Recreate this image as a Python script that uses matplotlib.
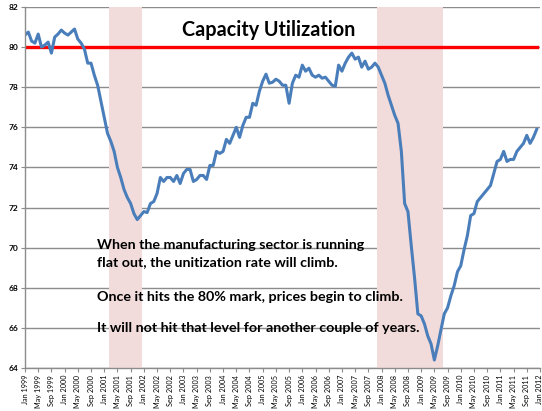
import matplotlib
matplotlib.use("Agg")
import matplotlib.pyplot as plt

# Monthly manufacturing capacity utilization, Jan 1999 - Dec 2011 (percent)
START_YEAR = 1999
utilization = [
    # 1999
    80.6, 80.75, 80.3, 80.2, 80.65, 80.0, 80.1, 80.25, 79.7, 80.5, 80.65, 80.85,
    # 2000
    80.7, 80.6, 80.75, 80.9, 80.4, 80.2, 79.9, 79.2, 79.2, 78.6, 78.1, 77.3,
    # 2001
    76.5, 75.7, 75.3, 74.8, 74.0, 73.5, 72.9, 72.5, 72.2, 71.7, 71.4, 71.6,
    # 2002
    71.8, 71.75, 72.2, 72.3, 72.7, 73.5, 73.3, 73.5, 73.5, 73.3, 73.6, 73.2,
    # 2003
    73.7, 73.9, 73.9, 73.3, 73.4, 73.6, 73.6, 73.4, 74.1, 74.1, 74.8, 74.7,
    # 2004
    74.8, 75.4, 75.2, 75.6, 76.0, 75.5, 76.1, 76.5, 76.5, 77.2, 77.1, 77.8,
    # 2005
    78.3, 78.65, 78.2, 78.25, 78.4, 78.3, 78.1, 78.1, 77.2, 78.2, 78.6, 78.5,
    # 2006
    79.1, 78.8, 78.95, 78.6, 78.5, 78.6, 78.45, 78.5, 78.3, 78.1, 78.05, 79.1,
    # 2007
    78.8, 79.2, 79.5, 79.7, 79.4, 79.5, 79.0, 79.3, 78.9, 79.0, 79.2, 79.0,
    # 2008
    78.6, 78.2, 77.6, 77.1, 76.6, 76.2, 74.8, 72.2, 71.8, 70.1, 68.5, 66.7,
    # 2009
    66.6, 66.2, 65.6, 65.2, 64.4, 65.1, 65.9, 66.7, 67.0, 67.6, 68.1, 68.8,
    # 2010
    69.1, 69.9, 70.6, 71.6, 71.7, 72.3, 72.5, 72.7, 72.9, 73.1, 73.7, 74.3,
    # 2011
    74.4, 74.8, 74.3, 74.4, 74.4, 74.8, 75.0, 75.2, 75.6, 75.2, 75.5, 75.9,
]
threshold = 80
# recession periods as (year, month) start and end
recessions = [((2001, 3), (2001, 12)), ((2007, 12), (2009, 7))]
notes = [
    "When the manufacturing sector is running",
    "flat out, the unitization rate will climb.",
    "Once it hits the 80% mark, prices begin to climb.",
    "It will not hit that level for another couple of years.",
]
month_names = ["Jan", "May", "Sep"]


def month_index(year, month):
    return (year - START_YEAR) * 12 + (month - 1)


months = list(range(len(utilization)))
n_ticks = 13 * 3 + 1
tick_pos = [i * 4 for i in range(n_ticks)]
tick_labels = [f"{month_names[(p % 12) // 4]} {START_YEAR + p // 12}" for p in tick_pos]

plt.rcParams["font.family"] = ["Lato", "DejaVu Sans"]

fig = plt.figure(figsize=(5.42, 4.11), dpi=100)
ax = fig.add_axes([25 / 542, 1 - 368 / 411, 515 / 542, 361 / 411])

grid_color = "#8c8c8c"
for v in range(64, 83, 2):
    ax.axhline(v, color=grid_color, lw=1.0, zorder=1)

for (y0, m0), (y1, m1) in recessions:
    ax.axvspan(month_index(y0, m0) - 0.5, month_index(y1, m1) + 0.5,
               color="#f2dcdb", lw=0, zorder=2)

ax.plot(months, [threshold] * len(months), color="#ff0000", lw=2.4, zorder=3)
ax.plot(months, utilization, color="#4a7ebb", lw=2.2, zorder=4,
        solid_joinstyle="round")

ax.set_xlim(0, 156)
ax.set_ylim(64, 82)
ax.set_yticks(range(64, 83, 2))
ax.set_yticklabels([str(v) for v in range(64, 83, 2)], fontsize=6, fontweight="bold")
ax.set_xticks(tick_pos)
ax.set_xticklabels(tick_labels, rotation=90, fontsize=5.2)
ax.tick_params(axis="both", colors=grid_color, length=3, width=0.8, pad=2,
               labelcolor="black")

for side in ("top", "right"):
    ax.spines[side].set_visible(False)
for side in ("left", "bottom"):
    ax.spines[side].set_color(grid_color)
    ax.spines[side].set_linewidth(1.0)
    ax.spines[side].set_zorder(5)

fig.text(269 / 542, 1 - 30 / 411, "Capacity Utilization", ha="center", va="center",
         fontsize=14.2, fontweight="bold")

note_y = [245, 262, 297, 328]
for txt, y in zip(notes, note_y):
    fig.text(97 / 542, 1 - y / 411, txt, ha="left", va="center",
             fontsize=10.3, fontweight="bold")

fig.savefig("out.png", dpi=100)
